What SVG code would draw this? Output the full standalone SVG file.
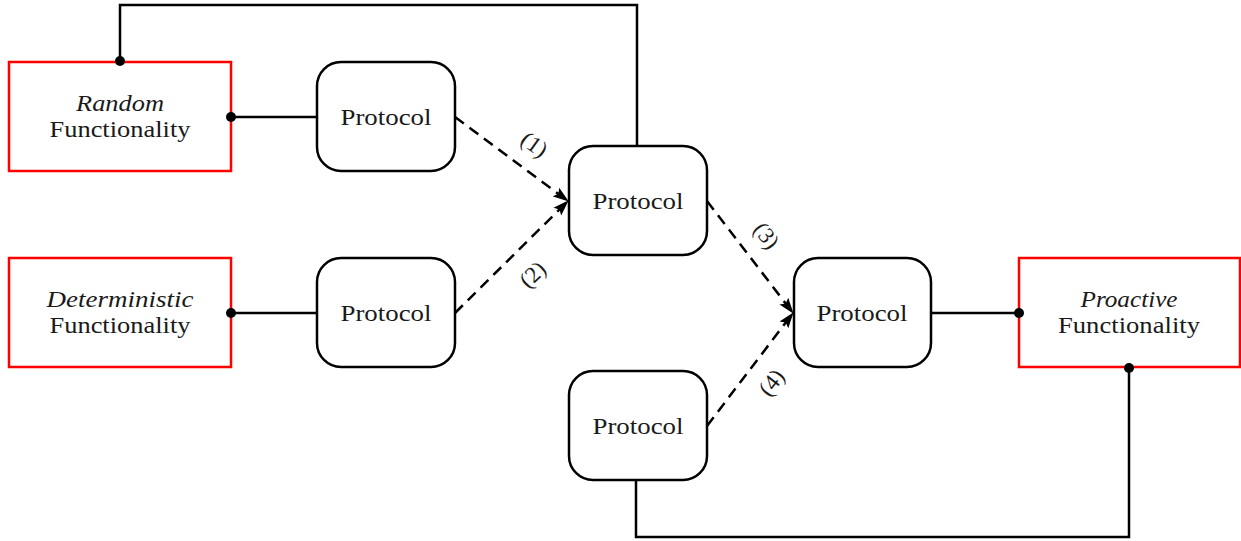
<svg xmlns="http://www.w3.org/2000/svg" width="1241" height="541" viewBox="0 0 1241 541">
<style>
text{font-family:"Liberation Serif","Times New Roman",serif;fill:#1a1a1a;font-size:23px;text-anchor:middle}
.it{font-style:italic}
.func{fill:#fff;stroke:#ff0000;stroke-width:2.5}
.proto{fill:#fff;stroke:#000;stroke-width:2.5}
.wire{fill:none;stroke:#000;stroke-width:2.5}
.dash{fill:none;stroke:#000;stroke-width:2.5;stroke-dasharray:11,7}
.lbl{font-size:23px}
</style>
<defs>
<marker id="ah" viewBox="0 0 16 12" refX="15" refY="6" markerWidth="16" markerHeight="12" markerUnits="userSpaceOnUse" orient="auto">
<path d="M0,0.5 L16,6 L0,11.5 L3,6 Z" fill="#000"/>
</marker>
</defs>
<g id="connectors">
<path class="wire" d="M120,61 V5 H637 V146"/>
<path class="wire" d="M636,480 V537 H1129 V368"/>
<line class="wire" x1="231" y1="117" x2="317" y2="117"/>
<line class="wire" x1="231" y1="313" x2="317" y2="313"/>
<line class="wire" x1="931" y1="313" x2="1019" y2="313"/>
<line class="dash" x1="455" y1="117" x2="568" y2="201" marker-end="url(#ah)"/>
<line class="dash" x1="455" y1="313" x2="568" y2="201" marker-end="url(#ah)"/>
<line class="dash" x1="707" y1="201" x2="793" y2="313" marker-end="url(#ah)"/>
<line class="dash" x1="707" y1="426" x2="793" y2="313" marker-end="url(#ah)"/>
<text class="lbl" transform="translate(534,145) rotate(36)" y="7">(1)</text>
<text class="lbl" transform="translate(533,275) rotate(-44)" y="7">(2)</text>
<text class="lbl" transform="translate(766,236) rotate(52)" y="7">(3)</text>
<text class="lbl" transform="translate(772,383) rotate(-52)" y="7">(4)</text>
</g>
<g id="random">
<rect class="func" x="9" y="62" width="222" height="109"/>
<text class="it" x="120" y="111" textLength="88" lengthAdjust="spacingAndGlyphs">Random</text>
<text x="120" y="137" textLength="141" lengthAdjust="spacingAndGlyphs">Functionality</text>
</g>
<g id="deterministic">
<rect class="func" x="9" y="258" width="222" height="109"/>
<text class="it" x="120" y="307" textLength="147" lengthAdjust="spacingAndGlyphs">Deterministic</text>
<text x="120" y="333" textLength="141" lengthAdjust="spacingAndGlyphs">Functionality</text>
</g>
<g id="proactive">
<rect class="func" x="1019" y="258" width="221" height="109"/>
<text class="it" x="1129" y="307" textLength="97" lengthAdjust="spacingAndGlyphs">Proactive</text>
<text x="1129" y="333" textLength="142" lengthAdjust="spacingAndGlyphs">Functionality</text>
</g>
<g id="protocolA">
<rect class="proto" x="317" y="62" width="138" height="109" rx="24"/>
<text x="386" y="125" textLength="91" lengthAdjust="spacingAndGlyphs">Protocol</text>
</g>
<g id="protocolB">
<rect class="proto" x="317" y="258" width="138" height="109" rx="24"/>
<text x="386" y="321" textLength="91" lengthAdjust="spacingAndGlyphs">Protocol</text>
</g>
<g id="protocolC">
<rect class="proto" x="569" y="146" width="138" height="109" rx="24"/>
<text x="638" y="209" textLength="91" lengthAdjust="spacingAndGlyphs">Protocol</text>
</g>
<g id="protocolD">
<rect class="proto" x="794" y="258" width="137" height="109" rx="24"/>
<text x="862" y="321" textLength="91" lengthAdjust="spacingAndGlyphs">Protocol</text>
</g>
<g id="protocolE">
<rect class="proto" x="569" y="371" width="138" height="109" rx="24"/>
<text x="638" y="434" textLength="91" lengthAdjust="spacingAndGlyphs">Protocol</text>
</g>
<g id="dots" fill="#000">
<circle cx="120" cy="61" r="5"/>
<circle cx="231" cy="117" r="5"/>
<circle cx="231" cy="313" r="5"/>
<circle cx="1019" cy="313" r="5"/>
<circle cx="1129" cy="368" r="5"/>
</g>
</svg>
